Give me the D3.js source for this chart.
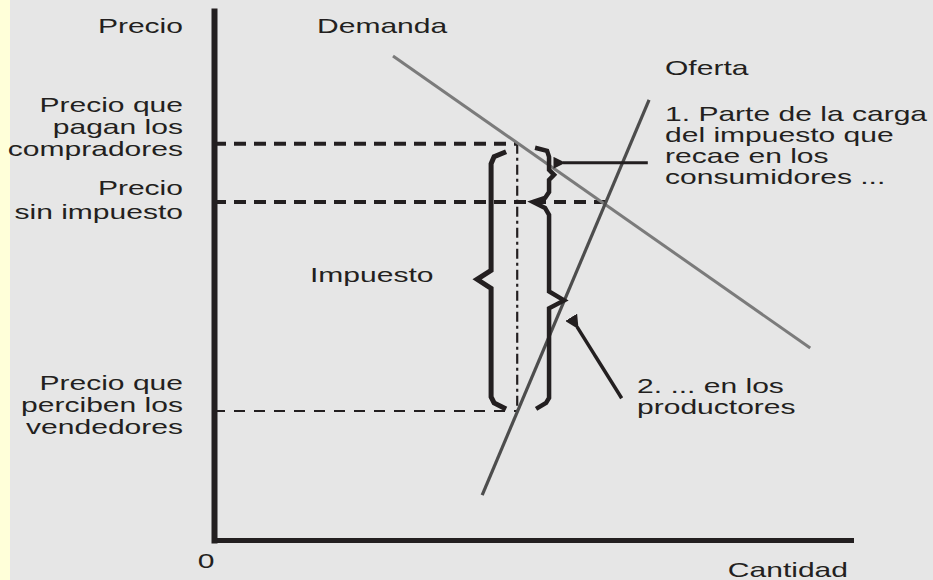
<!DOCTYPE html>
<html>
<head>
<meta charset="utf-8">
<script src="https://cdn.jsdelivr.net/npm/d3@7/dist/d3.min.js"></script>
<style>
  html, body { margin: 0; padding: 0; background: #e6e6e6; }
  svg { display: block; }
  text { font-family: "Liberation Sans", Arial, sans-serif; font-size: 21px; fill: #231f20; }
</style>
</head>
<body>
<div id="chart"></div>
<script>
// curves (quantity, price) in chart units
const demandQ = [2.81, 9.36];
const demandP = [9.15, 3.63];
const supplyQ = [4.21, 6.83];
const supplyP = [0.85, 8.32];

// price levels: buyers pay, no tax, sellers receive
const priceValues = [7.49, 6.39, 2.44];
const qTax = 4.76;
const qEq = 6.17;

// annotation anchors
const braceQ = [4.35, 5.26];
const arrow1Q = [6.81, 5.48];
const arrow1P = [7.13, 7.13];
const arrow2Q = [6.40, 5.70];
const arrow2P = [2.68, 4.03];

// text
const leftLabels = [["Precio"], ["Precio que", "pagan los", "compradores"], ["Precio", "sin impuesto"], ["Precio que", "perciben los", "vendedores"]];
const noteLabels = [["Demanda"], ["Oferta"], ["1. Parte de la carga", "del impuesto que", "recae en los", "consumidores ..."], ["Impuesto"], ["2. ... en los", "productores"]];
const originLabel = "0";
const xAxisLabel = "Cantidad";

const w = 933, h = 580;
const ink = "#231f20";
const sx = 1.43;

const svg = d3.select("#chart").append("svg").attr("width", w).attr("height", h);
svg.append("rect").attr("width", w).attr("height", h).attr("fill", "#e6e6e6");
svg.append("rect").attr("width", 10).attr("height", h).attr("fill", "#ffffd9");

const x = d3.scaleLinear().domain([0, 10]).range([214, 851]);
const y = d3.scaleLinear().domain([0, 10]).range([540, 11]);

// axes
const xAxis = svg.append("g").attr("transform", "translate(0," + y(0) + ")")
  .call(d3.axisBottom(x).tickValues([]).tickSizeOuter(0));
xAxis.select(".domain").attr("stroke", ink).attr("stroke-width", 5).attr("stroke-linecap", "square");
const yAxis = svg.append("g").attr("transform", "translate(" + x(0) + ",0)")
  .call(d3.axisLeft(y).tickValues([]).tickSizeOuter(0));
yAxis.select(".domain").attr("stroke", ink).attr("stroke-width", 6).attr("stroke-linecap", "square");

const line = d3.line().x(d => x(d[0])).y(d => y(d[1]));

// price dashed lines
svg.append("path").attr("d", line([[0, priceValues[0]], [qTax, priceValues[0]]]))
  .attr("stroke", ink).attr("stroke-width", 4).attr("stroke-dasharray", "12,8").attr("fill", "none");
svg.append("path").attr("d", line([[0, priceValues[1]], [qEq, priceValues[1]]]))
  .attr("stroke", ink).attr("stroke-width", 4).attr("stroke-dasharray", "12,8").attr("fill", "none");
svg.append("path").attr("d", line([[0, priceValues[2]], [qTax, priceValues[2]]]))
  .attr("stroke", ink).attr("stroke-width", 2).attr("stroke-dasharray", "11,9").attr("fill", "none");
// quantity with tax
svg.append("path").attr("d", line([[qTax, priceValues[0]], [qTax, priceValues[2]]]))
  .attr("stroke", ink).attr("stroke-width", 2.2).attr("stroke-dasharray", "10,4,3,4").attr("fill", "none");

// curves
svg.append("path").attr("d", line(d3.zip(demandQ, demandP)))
  .attr("stroke", "#7b7b7b").attr("stroke-width", 3).attr("fill", "none");
svg.append("path").attr("d", line(d3.zip(supplyQ, supplyP)))
  .attr("stroke", "#4d4d4d").attr("stroke-width", 3.2).attr("fill", "none");

// braces
const bx = x(braceQ[0]);
const t0 = y(priceValues[0]) + 8, t1 = y(priceValues[2]) - 4, tm = (t0 + t1) / 2;
svg.append("path")
  .attr("d", `M${bx + 15},${t0} L${bx + 3},${t0 + 5} L${bx},${t0 + 12} V${tm - 9} L${bx - 14},${tm} L${bx},${tm + 9} V${t1 - 10} L${bx + 3},${t1 - 4} L${bx + 15},${t1 + 2}`)
  .attr("stroke", ink).attr("stroke-width", 5).attr("fill", "none").attr("stroke-linejoin", "miter");

const rx = x(braceQ[1]);
const u0 = y(priceValues[0]) + 4, u1 = y(priceValues[1]), um = (u0 + u1) / 2;
const l1 = y(priceValues[2]) - 4, lm = y(4.53);
svg.append("path")
  .attr("d", `M${rx - 14},${u0} L${rx - 2},${u0 + 3} L${rx},${u0 + 9} V${um - 5} L${rx + 5},${um} L${rx},${um + 5} V${u1 - 10} L${rx - 4},${u1 - 4} L${rx - 16},${u1} L${rx - 4},${u1 + 6} L${rx},${u1 + 13} V${lm - 9} L${rx + 15},${lm} L${rx},${lm + 8} V${l1 - 9} L${rx - 3},${l1 - 4} L${rx - 13},${l1 + 2}`)
  .attr("stroke", ink).attr("stroke-width", 4.5).attr("fill", "none").attr("stroke-linejoin", "miter");

// arrows
const defs = svg.append("defs");
defs.append("marker").attr("id", "head").attr("viewBox", "0 0 10 10").attr("refX", 2).attr("refY", 5)
  .attr("markerWidth", 4).attr("markerHeight", 4).attr("orient", "auto-start-reverse")
  .attr("markerUnits", "strokeWidth")
  .append("path").attr("d", "M0,5 L10,0 L10,10 Z").attr("fill", ink);
svg.append("path").attr("d", line(d3.zip(arrow1Q, arrow1P)))
  .attr("stroke", ink).attr("stroke-width", 3).attr("fill", "none").attr("marker-end", "url(#head)");
svg.append("path").attr("d", line(d3.zip(arrow2Q, arrow2P)))
  .attr("stroke", ink).attr("stroke-width", 3.5).attr("fill", "none").attr("marker-end", "url(#head)");

// labels
function block(lines, px, baselines, anchor) {
  lines.forEach((s, i) => {
    svg.append("text")
      .attr("transform", `translate(${px},${baselines[i]}) scale(${sx},1)`)
      .attr("text-anchor", anchor)
      .text(s);
  });
}
block(leftLabels[0], 183, [33], "end");
block(leftLabels[1], 183, [112, 134, 156], "end");
block(leftLabels[2], 183, [195, 219], "end");
block(leftLabels[3], 183, [390, 412, 434], "end");

block(noteLabels[0], 317, [33], "start");
block(noteLabels[1], 665, [75], "start");
block(noteLabels[2], 665, [121, 142, 163, 184], "start");
block(noteLabels[3], 310, [282], "start");
block(noteLabels[4], 637, [393, 414], "start");

block([originLabel], 206, [568], "middle");
block([xAxisLabel], 848, [577], "end");
</script>
</body>
</html>
